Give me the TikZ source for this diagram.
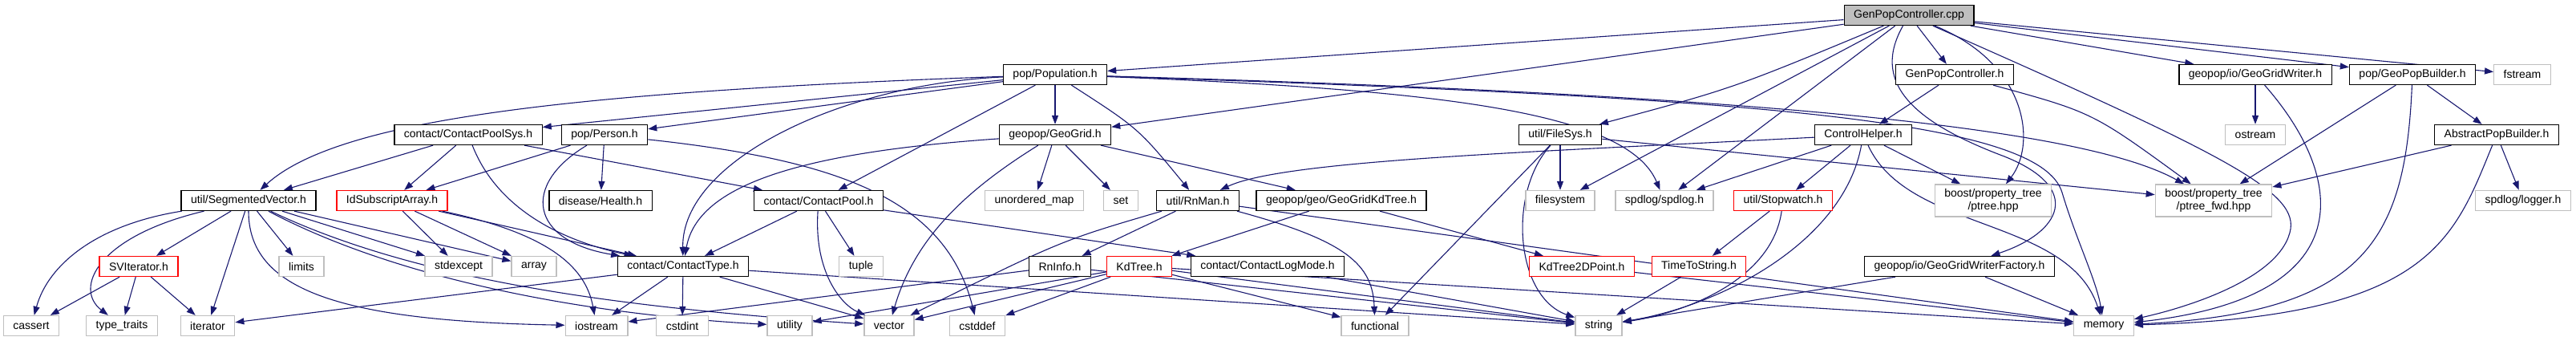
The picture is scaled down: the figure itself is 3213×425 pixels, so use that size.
\documentclass[tikz,border=0pt]{standalone}
\usepackage{fontspec}
\setmainfont{Liberation Sans}
\usepackage{tikz}
\usetikzlibrary{arrows.meta, positioning, backgrounds}
\definecolor{edgeblue}{HTML}{191970}
\definecolor{sysgray}{HTML}{BFBFBF}

\begin{document}
\begin{tikzpicture}[x=1pt, y=-1pt,
        hdr/.style={rectangle, draw=black, line width=1.3pt, fill=white, minimum height=25pt, inner xsep=12pt, inner ysep=3pt, align=center, font=\fontsize{14}{16}\selectfont},
        sys/.style={hdr, draw=sysgray},
        trunc/.style={hdr, draw=red},
        root/.style={hdr, fill=sysgray},
        dep/.style={draw=edgeblue, line width=1.1pt, -{Triangle[length=11pt, width=8pt]}}
    ]
        \useasboundingbox (0,0) rectangle (3213,425);
        % rows of the include graph
        \node[root] (cpp) at (2381,19) {GenPopController.cpp};
        \node[hdr] (population) at (1316,93) {pop/Population.h};
        \node[hdr] (genpoph) at (2438,93) {GenPopController.h};
        \node[hdr] (ggwriter) at (2813,93) {geopop/io/GeoGridWriter.h};
        \node[hdr] (geopopbuilder) at (3009,93) {pop/GeoPopBuilder.h};
        \node[sys] (fstream) at (3146,93) {fstream};
        \node[hdr] (contactpoolsys) at (584,168) {contact/ContactPoolSys.h};
        \node[hdr] (person) at (754,168) {pop/Person.h};
        \node[hdr] (geogrid) at (1316,168) {geopop/GeoGrid.h};
        \node[hdr] (filesys) at (1946,168) {util/FileSys.h};
        \node[hdr] (ctrlhelper) at (2324,168) {ControlHelper.h};
        \node[sys] (ostream) at (2813,168) {ostream};
        \node[hdr] (abstractpb) at (3114,168) {AbstractPopBuilder.h};
        \node[hdr] (segvec) at (310,250) {util/SegmentedVector.h};
        \node[trunc] (idsubscript) at (489,250) {IdSubscriptArray.h};
        \node[hdr] (health) at (749,250) {disease/Health.h};
        \node[hdr] (contactpool) at (1021,250) {contact/ContactPool.h};
        \node[sys] (unorderedmap) at (1290,250) {unordered\_map};
        \node[sys] (set) at (1398,250) {set};
        \node[hdr] (rnman) at (1494,250) {util/RnMan.h};
        \node[hdr] (ggkdtree) at (1673,250) {geopop/geo/GeoGridKdTree.h};
        \node[sys] (filesystem) at (1946,250) {filesystem};
        \node[sys] (spdlog) at (2076,250) {spdlog/spdlog.h};
        \node[trunc] (stopwatch) at (2224,250) {util/Stopwatch.h};
        \node[sys, minimum height=40pt] (ptree) at (2486,250) {boost/property\_tree\\/ptree.hpp};
        \node[sys, minimum height=40pt] (ptreefwd) at (2761,250) {boost/property\_tree\\/ptree\_fwd.hpp};
        \node[sys] (logger) at (3147,250) {spdlog/logger.h};
        \node[trunc] (sviterator) at (173,332) {SVIterator.h};
        \node[sys] (limits) at (376,332) {limits};
        \node[sys] (stdexcept) at (572,332) {stdexcept};
        \node[sys] (array) at (666,332) {array};
        \node[hdr] (contacttype) at (852,332) {contact/ContactType.h};
        \node[sys] (tuple) at (1074,332) {tuple};
        \node[hdr] (rninfo) at (1322,332) {RnInfo.h};
        \node[trunc] (kdtree) at (1421,332) {KdTree.h};
        \node[hdr] (logmode) at (1581,332) {contact/ContactLogMode.h};
        \node[trunc] (kdpoint) at (1973,332) {KdTree2DPoint.h};
        \node[trunc] (timetostr) at (2119,332) {TimeToString.h};
        \node[hdr] (ggwfactory) at (2444,332) {geopop/io/GeoGridWriterFactory.h};
        \node[sys] (cassert) at (39,406) {cassert};
        \node[sys] (typetraits) at (152,406) {type\_traits};
        \node[sys] (iterator) at (259,406) {iterator};
        \node[sys] (iostream) at (744,406) {iostream};
        \node[sys] (cstdint) at (851,406) {cstdint};
        \node[sys] (utility) at (985,406) {utility};
        \node[sys] (vector) at (1109,406) {vector};
        \node[sys] (cstddef) at (1219,406) {cstddef};
        \node[sys] (functional) at (1715,406) {functional};
        \node[sys] (string) at (1994,406) {string};
        \node[sys] (memory) at (2624,406) {memory};

        \begin{scope}[on background layer]
        % GenPopController.cpp
        \draw[dep] (cpp) -- (population);
        \draw[dep] (cpp) -- (geogrid);
        \draw[dep] (cpp) .. controls (2162,110) .. (filesys);
        \draw[dep] (cpp) -- (filesystem);
        \draw[dep] (cpp) -- (spdlog);
        \draw[dep] (cpp) -- (genpoph);
        \draw[dep] (cpp) .. controls (2335,100) and (2380,150) .. (2500,195) .. controls (2600,235) and (2570,290) .. (ggwfactory);
        \draw[dep] (cpp) .. controls (2530,80) and (2540,180) .. (ptree);
        \draw[dep] (cpp) .. controls (2780,195) and (2870,240) .. (2856,290) .. controls (2840,350) and (2720,385) .. (memory);
        \draw[dep] (cpp) -- (ggwriter);
        \draw[dep] (cpp) -- (geopopbuilder);
        \draw[dep] (cpp) -- (fstream);

        % pop/Population.h
        \draw[dep] (population) .. controls (700,115) and (420,150) .. (segvec);
        \draw[dep] (population) -- (contactpoolsys);
        \draw[dep] (population) -- (person);
        \draw[dep] (population) .. controls (1050,105) and (850,200) .. (contacttype);
        \draw[dep] (population) -- (contactpool);
        \draw[dep] (population) -- (geogrid);
        \draw[dep] (population) .. controls (1420,160) .. (rnman);
        \draw[dep] (population) .. controls (1800,112) and (2030,140) .. (spdlog);
        \draw[dep] (population) .. controls (2200,118) and (2600,160) .. (ptreefwd);
        \draw[dep] (population) .. controls (2200,122) and (2545,150) .. (2572,240) .. controls (2590,300) and (2615,350) .. (memory);

        % GenPopController.h and the builders
        \draw[dep] (genpoph) -- (ctrlhelper);
        \draw[dep] (genpoph) .. controls (2610,140) .. (ptreefwd);
        \draw[dep] (ggwriter) -- (ostream);
        \draw[dep] (ggwriter) .. controls (2925,220) and (2950,370) .. (memory);
        \draw[dep] (geopopbuilder) -- (ptreefwd);
        \draw[dep] (geopopbuilder) .. controls (3000,300) and (2950,390) .. (memory);
        \draw[dep] (geopopbuilder) -- (abstractpb);
        \draw[dep] (abstractpb) -- (ptreefwd);
        \draw[dep] (abstractpb) .. controls (3060,300) and (3030,395) .. (memory);
        \draw[dep] (abstractpb) -- (logger);

        % contact/ContactPoolSys.h and pop/Person.h
        \draw[dep] (contactpoolsys) -- (segvec);
        \draw[dep] (contactpoolsys) -- (idsubscript);
        \draw[dep] (contactpoolsys) .. controls (620,260) and (700,300) .. (contacttype);
        \draw[dep] (contactpoolsys) -- (contactpool);
        \draw[dep] (person) -- (idsubscript);
        \draw[dep] (person) .. controls (650,230) and (660,300) .. (contacttype);
        \draw[dep] (person) -- (health);
        \draw[dep] (person) .. controls (1050,200) and (1180,250) .. (cstddef);

        % util/SegmentedVector.h
        \draw[dep] (segvec) .. controls (120,280) and (60,330) .. (cassert);
        \draw[dep] (segvec) .. controls (120,295) and (92,360) .. (typetraits);
        \draw[dep] (segvec) -- (sviterator);
        \draw[dep] (segvec) -- (iterator);
        \draw[dep] (segvec) .. controls (310,360) and (420,400) .. (iostream);
        \draw[dep] (segvec) -- (limits);
        \draw[dep] (segvec) -- (stdexcept);
        \draw[dep] (segvec) -- (array);
        \draw[dep] (segvec) .. controls (480,340) and (700,390) .. (utility);
        \draw[dep] (segvec) .. controls (530,355) and (800,385) .. (vector);

        % IdSubscriptArray.h and SVIterator.h
        \draw[dep] (idsubscript) -- (stdexcept);
        \draw[dep] (idsubscript) -- (array);
        \draw[dep] (idsubscript) -- (contacttype);
        \draw[dep] (idsubscript) .. controls (680,290) and (730,330) .. (iostream);
        \draw[dep] (sviterator) -- (cassert);
        \draw[dep] (sviterator) -- (typetraits);
        \draw[dep] (sviterator) -- (iterator);

        % contact/ContactType.h and contact/ContactPool.h
        \draw[dep] (contacttype) -- (iterator);
        \draw[dep] (contacttype) -- (iostream);
        \draw[dep] (contacttype) -- (cstdint);
        \draw[dep] (contacttype) -- (vector);
        \draw[dep] (contacttype) -- (string);
        \draw[dep] (contactpool) -- (contacttype);
        \draw[dep] (contactpool) -- (tuple);
        \draw[dep] (contactpool) .. controls (1015,340) and (1050,380) .. (vector);
        \draw[dep] (contactpool) -- (logmode);

        % geopop/GeoGrid.h
        \draw[dep] (geogrid) .. controls (1000,190) and (870,230) .. (contacttype);
        \draw[dep] (geogrid) .. controls (1200,240) and (1140,300) .. (vector);
        \draw[dep] (geogrid) -- (unorderedmap);
        \draw[dep] (geogrid) -- (set);
        \draw[dep] (geogrid) -- (ggkdtree);

        % util/RnMan.h, GeoGridKdTree.h and below
        \draw[dep] (rnman) -- (rninfo);
        \draw[dep] (rnman) .. controls (1323,300) .. (vector);
        \draw[dep] (rnman) .. controls (1680,300) and (1712,330) .. (functional);
        \draw[dep] (rnman) -- (memory);
        \draw[dep] (ggkdtree) -- (kdtree);
        \draw[dep] (ggkdtree) -- (kdpoint);
        \draw[dep] (rninfo) -- (iostream);
        \draw[dep] (rninfo) -- (string);
        \draw[dep] (kdtree) -- (vector);
        \draw[dep] (kdtree) -- (utility);
        \draw[dep] (kdtree) -- (cstddef);
        \draw[dep] (kdtree) -- (functional);
        \draw[dep] (kdtree) -- (string);
        \draw[dep] (kdtree) -- (memory);
        \draw[dep] (logmode) -- (string);

        % util/FileSys.h and ControlHelper.h
        \draw[dep] (filesys) -- (filesystem);
        \draw[dep] (filesys) -- (functional);
        \draw[dep] (filesys) .. controls (1880,240) and (1890,370) .. (string);
        \draw[dep] (filesys) -- (ptreefwd);
        \draw[dep] (ctrlhelper) .. controls (1900,190) and (1600,200) .. (rnman);
        \draw[dep] (ctrlhelper) -- (spdlog);
        \draw[dep] (ctrlhelper) -- (stopwatch);
        \draw[dep] (ctrlhelper) -- (ptree);
        \draw[dep] (ctrlhelper) .. controls (2300,300) and (2150,380) .. (string);
        \draw[dep] (ctrlhelper) .. controls (2380,290) and (2580,270) .. (memory);
        \draw[dep] (stopwatch) -- (timetostr);
        \draw[dep] (stopwatch) .. controls (2210,350) and (2100,390) .. (string);
        \draw[dep] (timetostr) -- (string);
        \draw[dep] (kdpoint) -- (memory);
        \draw[dep] (ggwfactory) -- (string);
        \draw[dep] (ggwfactory) -- (memory);
        \end{scope}
    \end{tikzpicture}
\end{document}
